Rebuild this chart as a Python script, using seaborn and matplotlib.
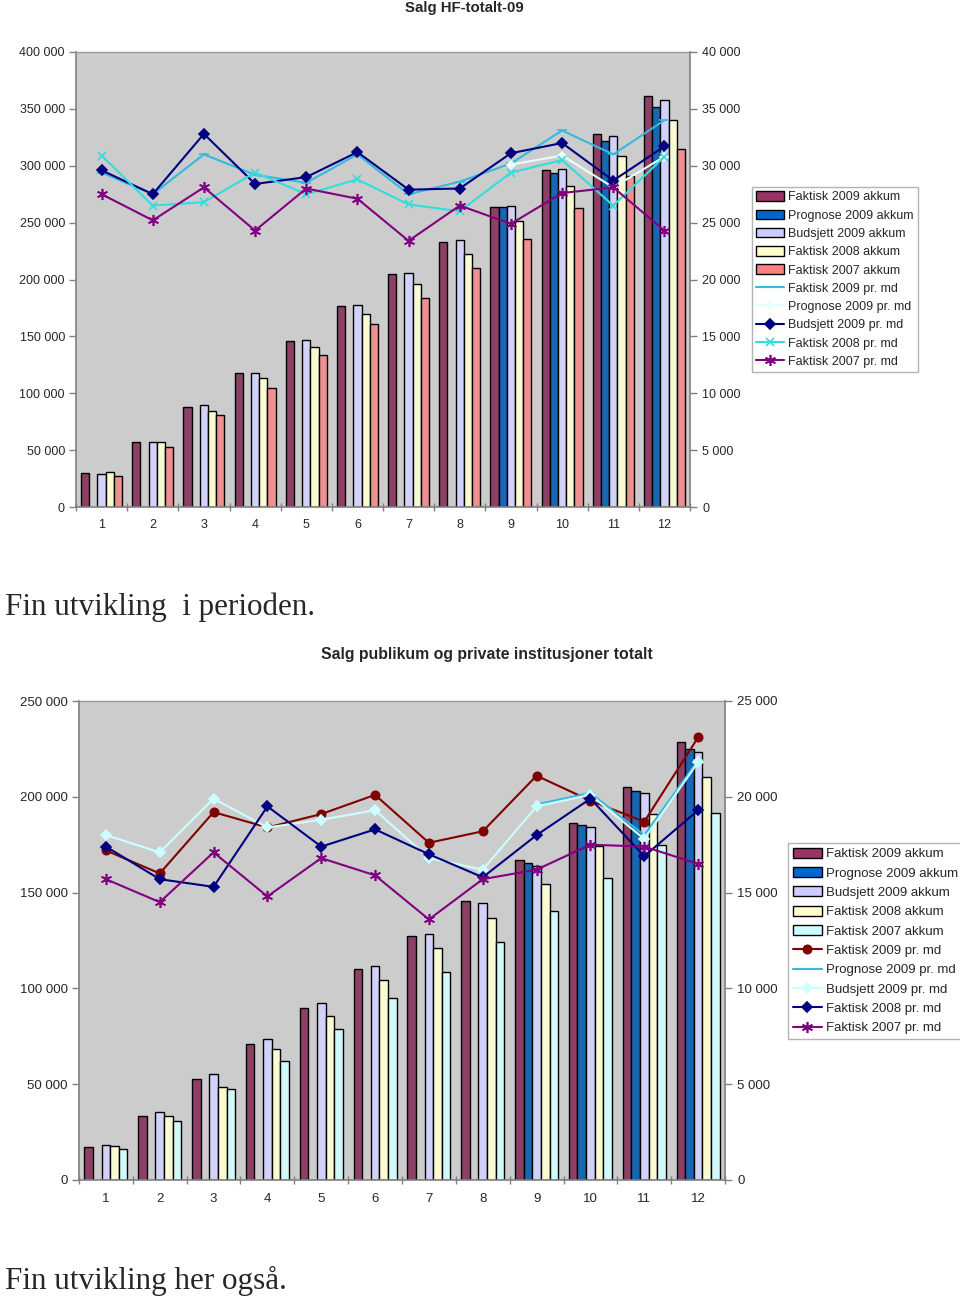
import numpy as np
import pandas as pd
import matplotlib
matplotlib.use("Agg")
import matplotlib.pyplot as plt
import seaborn as sns
from matplotlib.patches import Patch
from matplotlib.lines import Line2D
from matplotlib.ticker import FuncFormatter, FixedLocator

sns.set_style("white")
plt.rcParams['font.family'] = ['Liberation Sans', 'DejaVu Sans']

nan = np.nan
months = [str(m) for m in range(1, 13)]

# ---------------- Chart 1: Salg HF-totalt-09 (values in thousands) -------------
hf_title = "Salg HF-totalt-09"
hf_bar_labels = ["Faktisk 2009 akkum", "Prognose 2009 akkum", "Budsjett 2009 akkum",
                 "Faktisk 2008 akkum", "Faktisk 2007 akkum"]
hf_fakt09_akk = [30, 57, 88, 118, 146, 177, 205, 233, 264, 296, 328, 361]
hf_prog09_akk = [nan, nan, nan, nan, nan, nan, nan, nan, 264, 294, 322, 352]
hf_bud09_akk = [29, 57, 90, 118, 147, 178, 206, 235, 265, 297, 326, 358]
hf_fakt08_akk = [31, 57, 84, 113, 141, 170, 196, 222, 251, 282, 309, 340]
hf_fakt07_akk = [27, 53, 81, 105, 134, 161, 184, 210, 236, 263, 291, 315]

hf_line_labels = ["Faktisk 2009 pr. md", "Prognose 2009 pr. md", "Budsjett 2009 pr. md",
                  "Faktisk 2008 pr. md", "Faktisk 2007 pr. md"]
hf_fakt09_md = [29.4, 27.5, 31.0, 29.2, 28.5, 31.0, 27.5, 28.6, 30.2, 33.1, 31.0, 34.0]
hf_prog09_md = [nan, nan, nan, nan, nan, nan, nan, nan, 30.1, 30.9, 28.1, 30.8]
hf_bud09_md = [29.6, 27.5, 32.8, 28.4, 29.0, 31.2, 27.9, 28.0, 31.1, 32.0, 28.7, 31.7]
hf_fakt08_md = [30.9, 26.5, 26.8, 29.4, 27.5, 28.8, 26.6, 26.0, 29.4, 30.5, 26.5, 30.8]
hf_fakt07_md = [27.5, 25.2, 28.1, 24.3, 28.0, 27.1, 23.4, 26.5, 24.9, 27.6, 28.1, 24.3]

# ---------------- Chart 2: Salg publikum og private institusjoner totalt -------
pp_title = "Salg publikum og private institusjoner totalt"
pp_bar_labels = hf_bar_labels
pp_fakt09_akk = [17.2, 33.4, 52.7, 71.0, 89.8, 110.1, 127.3, 145.6, 167.0, 186.3, 205.1, 228.6]
pp_prog09_akk = [nan, nan, nan, nan, nan, nan, nan, nan, 165.4, 185.3, 203.0, 224.9]
pp_bud09_akk = [18.3, 35.5, 55.3, 73.6, 92.4, 111.7, 128.4, 144.6, 163.9, 184.2, 202.0, 223.4]
pp_fakt08_akk = [17.7, 33.4, 48.5, 68.4, 85.6, 104.4, 121.1, 136.7, 154.5, 174.3, 191.0, 210.3]
pp_fakt07_akk = [16.2, 30.8, 47.5, 62.1, 78.8, 95.0, 108.6, 124.2, 140.4, 157.6, 174.8, 191.5]

pp_line_labels = hf_line_labels
pp_fakt09_md = [17.2, 16.0, 19.2, 18.4, 19.1, 20.1, 17.6, 18.2, 21.1, 19.8, 18.7, 23.1]
pp_prog09_md = [nan, nan, nan, nan, nan, nan, nan, nan, 19.6, 20.2, 18.0, 21.9]
pp_bud09_md = [18.0, 17.1, 19.9, 18.4, 18.8, 19.3, 16.8, 16.2, 19.5, 20.1, 17.8, 21.8]
pp_fakt08_md = [17.4, 15.7, 15.3, 19.5, 17.4, 18.3, 17.0, 15.8, 18.0, 19.9, 16.9, 19.3]
pp_fakt07_md = [15.7, 14.5, 17.1, 14.8, 16.8, 15.9, 13.6, 15.7, 16.2, 17.5, 17.4, 16.5]

W, H = 960, 1302
fig = plt.figure(figsize=(W / 100, H / 100), dpi=100)

GRAY_BG = "#CCCCCC"
AXIS_C = "#808080"
STAR = (6, 2, 0)


def fmt(v, pos=None):
    return f"{int(round(v)):,}".replace(",", " ")


def draw(rect, bar_series, bar_labels, bar_colors, line_series, line_labels, line_styles,
         ymax_left, ystep_left, ymax_right, ystep_right, fs, legend_pos, lspace):
    l, t, r, b = rect
    ax = fig.add_axes([l / W, 1 - b / H, (r - l) / W, (b - t) / H])
    ax.set_facecolor(GRAY_BG)
    rows = []
    for lab, vals in zip(bar_labels, bar_series):
        for m, v in zip(months, vals):
            rows.append({"month": m, "series": lab, "value": v * 1000})
    df = pd.DataFrame(rows)
    sns.barplot(data=df, x="month", y="value", hue="series", hue_order=bar_labels,
                order=months, palette=dict(zip(bar_labels, bar_colors)),
                edgecolor="black", linewidth=1.0, width=0.8, errorbar=None,
                ax=ax, legend=False, zorder=2)
    ax.set_xlim(-0.5, 11.5)
    ax.set_ylim(0, ymax_left)
    ax.set_yticks(np.arange(0, ymax_left + 1, ystep_left))
    ax.yaxis.set_major_formatter(FuncFormatter(fmt))
    ax.set_xlabel("")
    ax.set_ylabel("")
    ax.tick_params(axis="y", length=5, width=1, color=AXIS_C, pad=3, labelsize=fs, direction="out", left=True)
    ax.tick_params(axis="x", which="major", length=0, pad=9, labelsize=fs)
    ax.xaxis.set_minor_locator(FixedLocator(np.arange(-0.5, 12, 1.0)))
    ax.tick_params(axis="x", which="minor", length=6, width=1, color=AXIS_C, direction="inout", bottom=True)
    ax.spines["right"].set_visible(False)
    ax.spines["top"].set_color("#999999")
    ax.spines["top"].set_linewidth(1.0)
    for s in ["left", "bottom"]:
        ax.spines[s].set_color(AXIS_C)
        ax.spines[s].set_linewidth(1.2)

    ax2 = ax.twinx()
    x = np.arange(12)
    for lab, vals, st in zip(line_labels, line_series, line_styles):
        sns.lineplot(x=x, y=np.array(vals, dtype=float) * 1000, ax=ax2, color=st["color"],
                     marker=st["marker"], markersize=st["ms"], markeredgecolor=st["color"],
                     markerfacecolor=st["color"], markeredgewidth=st.get("mew", 1.2),
                     linewidth=st.get("lw", 1.5), zorder=3)
    ax2.set_ylim(0, ymax_right)
    ax2.set_yticks(np.arange(0, ymax_right + 1, ystep_right))
    ax2.yaxis.set_major_formatter(FuncFormatter(fmt))
    ax2.set_ylabel("")
    ax2.tick_params(axis="y", length=5, width=1, color=AXIS_C, pad=4, labelsize=fs, direction="out", right=True)
    for s in ["top", "left", "bottom"]:
        ax2.spines[s].set_visible(False)
    ax2.spines["right"].set_color(AXIS_C)
    ax2.spines["right"].set_linewidth(1.2)

    handles = [Patch(facecolor=c, edgecolor="black", linewidth=1.0) for c in bar_colors]
    for st in line_styles:
        handles.append(Line2D([0], [0], color=st["color"], marker=st["marker"],
                              markersize=st["ms"], markeredgecolor=st["color"],
                              markerfacecolor=st["color"], markeredgewidth=st.get("mew", 1.2),
                              linewidth=st.get("lw", 1.5)))
    leg = fig.legend(handles, list(bar_labels) + list(line_labels), loc="upper left",
                     bbox_to_anchor=(legend_pos[0] / W, 1 - legend_pos[1] / H),
                     fontsize=fs, frameon=True, fancybox=False, edgecolor="#A0A0A0",
                     borderpad=0.35, labelspacing=lspace, handlelength=2.2, handleheight=0.8,
                     handletextpad=0.3, borderaxespad=0)
    leg.get_frame().set_linewidth(1.0)
    return ax, ax2


hf_bar_colors = ["#993366", "#0066CC", "#CCCCFF", "#FFFFCC", "#FF8080"]
hf_line_styles = [
    dict(color="#33BBDD", marker="_", ms=7),
    dict(color="#E8FFFF", marker="D", ms=4),
    dict(color="#000080", marker="D", ms=5),
    dict(color="#33DDDD", marker="x", ms=6),
    dict(color="#800080", marker=STAR, ms=8),
]
draw((76, 52, 690, 507),
     [hf_fakt09_akk, hf_prog09_akk, hf_bud09_akk, hf_fakt08_akk, hf_fakt07_akk],
     hf_bar_labels, hf_bar_colors,
     [hf_fakt09_md, hf_prog09_md, hf_bud09_md, hf_fakt08_md, hf_fakt07_md],
     hf_line_labels, hf_line_styles,
     400000, 50000, 40000, 5000, 9, (752, 187), 0.49)
fig.text(464 / W, 1 - 8 / H, hf_title, ha="center", va="center", fontsize=10.8, fontweight="bold")

pp_bar_colors = ["#993366", "#0066CC", "#CCCCFF", "#FFFFCC", "#CCFFFF"]
pp_line_styles = [
    dict(color="#800000", marker="o", ms=6),
    dict(color="#33BBDD", marker="_", ms=7),
    dict(color="#CCFFFF", marker="D", ms=5),
    dict(color="#000080", marker="D", ms=5),
    dict(color="#800080", marker=STAR, ms=8),
]
draw((79, 701, 725, 1180),
     [pp_fakt09_akk, pp_prog09_akk, pp_bud09_akk, pp_fakt08_akk, pp_fakt07_akk],
     pp_bar_labels, pp_bar_colors,
     [pp_fakt09_md, pp_prog09_md, pp_bud09_md, pp_fakt08_md, pp_fakt07_md],
     pp_line_labels, pp_line_styles,
     250000, 50000, 25000, 5000, 9.5, (788, 843), 0.51)
fig.text(487 / W, 1 - 655 / H, pp_title, ha="center", va="center", fontsize=11.4, fontweight="bold")

fig.text(5 / W, 1 - 607 / H, "Fin utvikling  i perioden.", ha="left", va="center",
         fontsize=22.4, family=["Liberation Serif", "DejaVu Serif"])
fig.text(5 / W, 1 - 1281 / H, "Fin utvikling her også.", ha="left", va="center",
         fontsize=22.4, family=["Liberation Serif", "DejaVu Serif"])

fig.savefig("out.png", dpi=100, facecolor="white")
